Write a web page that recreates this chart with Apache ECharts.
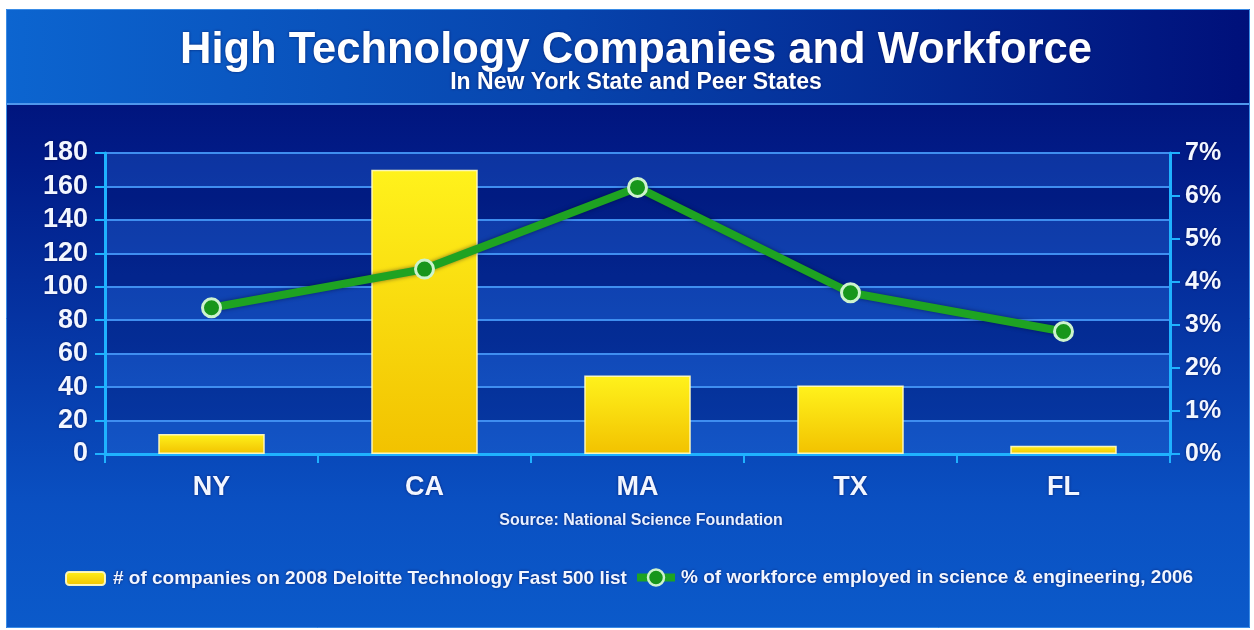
<!DOCTYPE html>
<html>
<head>
<meta charset="utf-8">
<title>High Technology Companies and Workforce</title>
<script src="https://cdn.jsdelivr.net/npm/echarts@6/dist/echarts.min.js"></script>
<style>
  html, body { margin: 0; padding: 0; background: #fff; }
  #chart { width: 1254px; height: 630px; }
</style>
</head>
<body>
<div id="chart"></div>
<script>
// data
const states = ['NY', 'CA', 'MA', 'TX', 'FL'];
const companies = [12, 170, 47, 41, 5];
const workforcePct = [3.4, 4.3, 6.2, 3.75, 2.85];

const barName = '# of companies on 2008 Deloitte Technology Fast 500 list';
const lineName = '% of workforce employed in science & engineering, 2006';

const FONT = '"Liberation Sans", Arial, sans-serif';
const AXIS_COLOR = '#1fb2ff';
const GRID_COLOR = '#3f8ef0';

const chart = echarts.init(document.getElementById('chart'));

const labelStyle = {
  color: '#f2f6ff',
  fontFamily: FONT,
  fontWeight: 'bold',
  textShadowColor: 'rgba(0,0,60,0.6)',
  textShadowBlur: 3
};

chart.setOption({
  animation: false,
  backgroundColor: '#fff',
  graphic: [
    {
      type: 'rect', z: -20, silent: true,
      shape: { x: 6, y: 9, width: 1244, height: 619 },
      style: {
        fill: new echarts.graphic.LinearGradient(0, 0, 0, 1, [
          { offset: 0, color: '#000a6e' },
          { offset: 0.25, color: '#011c88' },
          { offset: 0.8, color: '#0a50c2' },
          { offset: 1, color: '#0b5aca' }
        ])
      }
    },
    {
      type: 'rect', z: -19, silent: true,
      shape: { x: 6, y: 9, width: 1244, height: 95 },
      style: {
        fill: new echarts.graphic.LinearGradient(0, 0, 1, 0, [
          { offset: 0, color: '#0c65d0' },
          { offset: 0.45, color: '#0744ad' },
          { offset: 1, color: '#00107a' }
        ])
      }
    },
    {
      type: 'line', z: -18, silent: true,
      shape: { x1: 6, y1: 104, x2: 1250, y2: 104 },
      style: { stroke: '#4f97ec', lineWidth: 2 }
    },
    {
      type: 'rect', z: -17, silent: true,
      shape: { x: 6.5, y: 9.5, width: 1243, height: 618 },
      style: { fill: null, stroke: '#3a8ce6', lineWidth: 1 }
    }
  ],
  title: [
    {
      text: 'High Technology Companies and Workforce',
      left: 631,
      textAlign: 'center',
      top: 24,
      textStyle: Object.assign({}, labelStyle, { fontSize: 43.5, color: '#ffffff' })
    },
    {
      text: 'In New York State and Peer States',
      left: 631,
      textAlign: 'center',
      top: 66,
      textStyle: Object.assign({}, labelStyle, { fontSize: 23, color: '#ffffff' })
    },
    {
      text: 'Source: National Science Foundation',
      left: 636,
      textAlign: 'center',
      top: 508,
      textStyle: Object.assign({}, labelStyle, { fontSize: 16, color: '#e8f0ff' })
    }
  ],
  legend: [
    {
      left: 60,
      top: 564,
      itemWidth: 39,
      itemHeight: 13,
      textStyle: Object.assign({}, labelStyle, { fontSize: 19, padding: [0, 0, 0, 3] }),
      data: [barName]
    },
    {
      left: 628,
      top: 563,
      itemWidth: 38,
      itemHeight: 20,
      lineStyle: { width: 8 },
      itemStyle: { borderColor: '#cdf3cd', borderWidth: 2.5 },
      textStyle: Object.assign({}, labelStyle, { fontSize: 19, padding: [0, 0, 0, 1] }),
      data: [lineName]
    }
  ],
  grid: {
    left: 105,
    right: 84,
    top: 153,
    bottom: 176
  },
  xAxis: {
    type: 'category',
    data: states,
    axisLine: { lineStyle: { color: AXIS_COLOR, width: 3 } },
    axisTick: { show: true, length: 9, lineStyle: { color: AXIS_COLOR, width: 2 } },
    axisLabel: Object.assign({}, labelStyle, { fontSize: 27, margin: 20 })
  },
  yAxis: [
    {
      type: 'value',
      min: 0,
      max: 180,
      interval: 20,
      axisLine: { show: true, lineStyle: { color: AXIS_COLOR, width: 3 } },
      axisTick: { show: true, length: 10, lineStyle: { color: AXIS_COLOR, width: 2 } },
      axisLabel: Object.assign({}, labelStyle, { fontSize: 27, margin: 17 }),
      splitLine: { lineStyle: { color: GRID_COLOR, width: 2 } },
      splitArea: {
        show: true,
        areaStyle: { color: ['rgba(45,120,230,0.28)', 'rgba(0,10,90,0.22)'] }
      }
    },
    {
      type: 'value',
      min: 0,
      max: 7,
      interval: 1,
      position: 'right',
      axisLine: { show: true, lineStyle: { color: AXIS_COLOR, width: 3 } },
      axisTick: { show: true, length: 10, lineStyle: { color: AXIS_COLOR, width: 2 } },
      axisLabel: Object.assign({}, labelStyle, { fontSize: 25, margin: 15, formatter: '{value}%' }),
      splitLine: { show: false }
    }
  ],
  series: [
    {
      name: barName,
      type: 'bar',
      data: companies,
      barWidth: '50%',
      itemStyle: {
        color: new echarts.graphic.LinearGradient(0, 0, 0, 1, [
          { offset: 0, color: '#fff21c' },
          { offset: 1, color: '#f2c200' }
        ]),
        borderColor: 'rgba(255,250,190,0.95)',
        borderWidth: 1.5
      }
    },
    {
      name: lineName,
      type: 'line',
      yAxisIndex: 1,
      data: workforcePct,
      symbol: 'circle',
      symbolSize: 18,
      lineStyle: {
        color: '#1ea322',
        width: 8,
        shadowColor: 'rgba(0,0,40,0.5)',
        shadowBlur: 4
      },
      itemStyle: {
        color: '#17961b',
        borderColor: '#cdf3cd',
        borderWidth: 3
      },
      z: 5
    }
  ]
});
</script>
</body>
</html>
